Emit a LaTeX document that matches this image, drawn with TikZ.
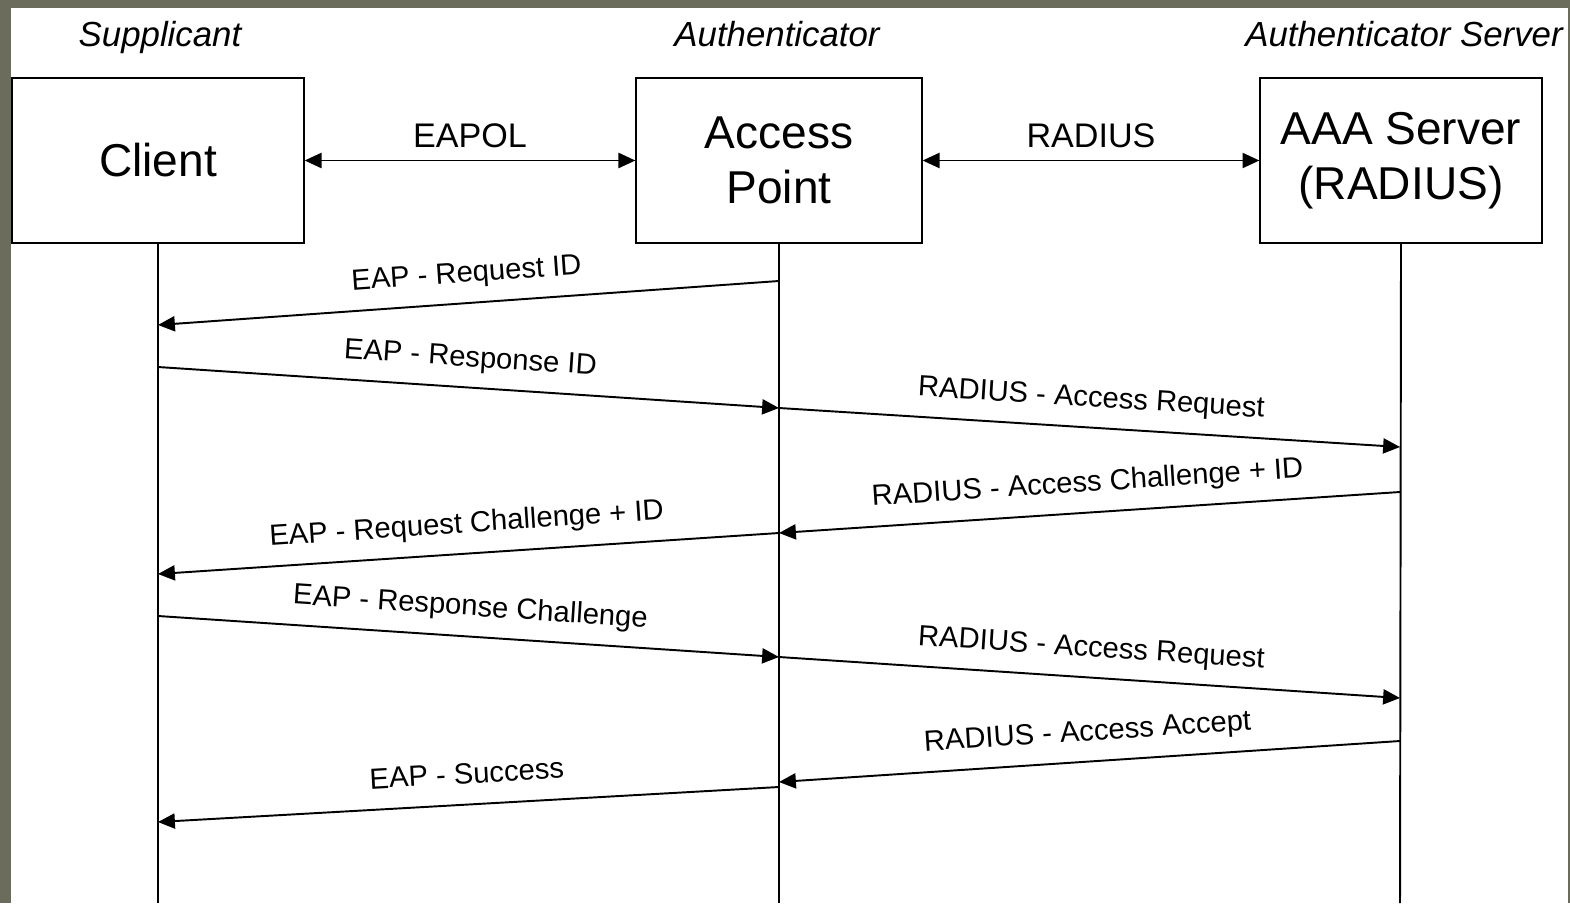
\documentclass[tikz,border=0pt]{standalone}
\usepackage{fontspec}
\setmainfont{Liberation Sans}
\usetikzlibrary{arrows.meta}
\pgfdeclarelayer{bglayer}
\pgfdeclarelayer{edgelayer}
\pgfdeclarelayer{nodelayer}
\pgfsetlayers{bglayer,edgelayer,nodelayer,main}
\definecolor{bordergray}{RGB}{108,108,92}
\tikzstyle{box}=[rectangle, fill=white, draw=black, line width=0.6pt, minimum height=1.65cm, align=center, font=\fontsize{13.1}{15.6}\selectfont]
\tikzstyle{role}=[anchor=base, inner sep=0pt, font=\fontsize{9.9}{12}\selectfont\itshape]
\tikzstyle{edge}=[draw=black, line width=0.55pt]
\tikzstyle{msg}=[draw=black, line width=0.55pt, -{Triangle[length=4.8pt,width=4.3pt]}]
\tikzstyle{link}=[draw=black, line width=0.55pt, {Triangle[length=4.8pt,width=4.3pt]}-{Triangle[length=4.8pt,width=4.3pt]}]
\tikzstyle{linklabel}=[midway, above=0.12cm, inner sep=0pt, text depth=0pt, font=\fontsize{9.7}{12}\selectfont]
\tikzstyle{msglabel}=[midway, sloped, above=0.2cm, inner sep=0pt, text depth=0pt, font=\fontsize{8.3}{10}\selectfont]

\begin{document}
\begin{tikzpicture}[x=0.01cm, y=-0.01cm]
	\useasboundingbox (0,0) rectangle (1570,903);
	\begin{pgfonlayer}{bglayer}
		\fill [bordergray] (0,0) rectangle (1570,903);
		\fill [white] (11,8) rectangle (1568,903);
	\end{pgfonlayer}
	\begin{pgfonlayer}{nodelayer}

	%boxes
		\node [style=box, minimum width=2.91cm] (client) at (158,160.5) {Client};
		\node [style=box, minimum width=2.85cm] (ap) at (779,160.5) {Access\\Point};
		\node [style=box, minimum width=2.81cm] (aaa) at (1401,160.5) {AAA Server\\(RADIUS)};
		\node [style=role] (supp) at (160,46) {Supplicant};
		\node [style=role] (auth) at (777,46) {Authenticator};
		\node [style=role] (authsrv) at (1404,46) {Authenticator Server};

	%lifeline ends
		\coordinate (1) at (158,903);
		\coordinate (2) at (779,903);
		\coordinate (3) at (1400,903);

	%message points
		\coordinate (10) at (779,281);
		\coordinate (11) at (158,325);
		\coordinate (12) at (158,367);
		\coordinate (13) at (779,408);
		\coordinate (14) at (1400,447);
		\coordinate (15) at (1400,492);
		\coordinate (16) at (779,533);
		\coordinate (17) at (158,574);
		\coordinate (18) at (158,616);
		\coordinate (19) at (779,657);
		\coordinate (20) at (1400,698);
		\coordinate (21) at (1400,741);
		\coordinate (22) at (779,782);
		\coordinate (23) at (779,787);
		\coordinate (24) at (158,822);

	\end{pgfonlayer}
	\begin{pgfonlayer}{edgelayer}

		%lifelines
		\draw [style=edge] (client.south) to (1);
		\draw [style=edge] (ap.south) to (2);
		\draw [style=edge] (aaa.south) to (3);

		%links
		\draw [style=link] (client.east) to node[style=linklabel] {EAPOL} (ap.west);
		\draw [style=link] (ap.east) to node[style=linklabel] {RADIUS} (aaa.west);

		%messages
		\draw [style=msg] (10) to node[style=msglabel] {EAP - Request ID} (11);
		\draw [style=msg] (12) to node[style=msglabel] {EAP - Response ID} (13);
		\draw [style=msg] (13) to node[style=msglabel] {RADIUS - Access Request} (14);
		\draw [style=msg] (15) to node[style=msglabel] {RADIUS - Access Challenge + ID} (16);
		\draw [style=msg] (16) to node[style=msglabel] {EAP - Request Challenge + ID} (17);
		\draw [style=msg] (18) to node[style=msglabel] {EAP - Response Challenge} (19);
		\draw [style=msg] (19) to node[style=msglabel] {RADIUS - Access Request} (20);
		\draw [style=msg] (21) to node[style=msglabel] {RADIUS - Access Accept} (22);
		\draw [style=msg] (23) to node[style=msglabel] {EAP - Success} (24);

	\end{pgfonlayer}
\end{tikzpicture}
\end{document}
